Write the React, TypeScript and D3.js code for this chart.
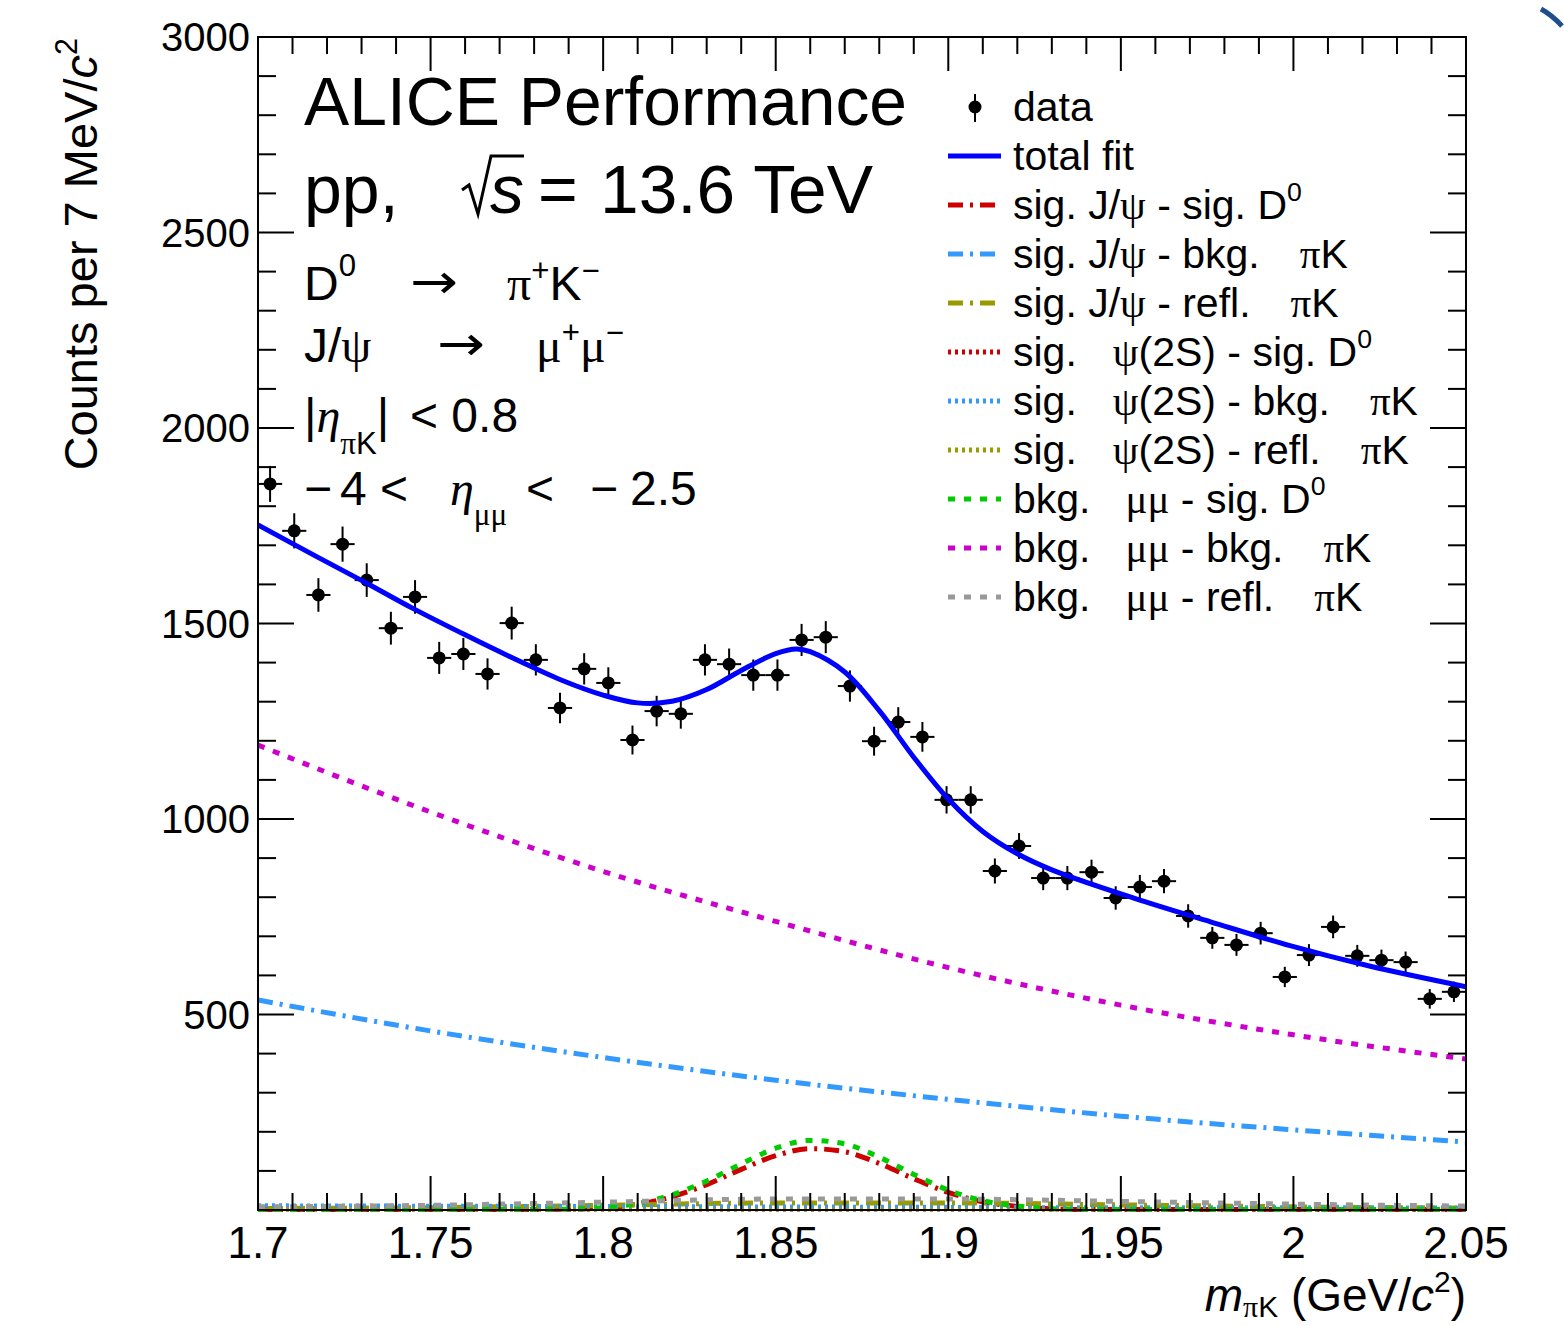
import React from 'react';
import * as d3 from 'd3';

// ---------------- data ----------------
const massLow = 1.7;
const binWidth = 0.007;
const counts = [1857, 1737, 1573, 1703, 1611, 1488, 1568, 1412, 1422, 1371, 1501, 1407, 1284, 1384, 1348, 1202, 1276, 1269, 1407, 1396, 1368, 1368, 1458, 1465, 1340, 1199, 1248, 1210, 1049, 1049, 867, 931, 849, 849, 864, 798, 826, 841, 752, 696, 678, 708, 596, 652, 724, 650, 639, 634, 540, 558];
const countErrors = [46, 45, 43, 45, 43, 42, 43, 41, 41, 40, 42, 40, 39, 40, 40, 37, 39, 38, 40, 40, 40, 40, 41, 41, 40, 37, 38, 38, 35, 35, 32, 33, 31, 31, 32, 30, 31, 31, 30, 28, 28, 29, 26, 28, 29, 28, 27, 27, 25, 26];

const fitMass = [1.700, 1.717, 1.7315, 1.745, 1.760, 1.774, 1.788, 1.800, 1.810, 1.820, 1.830, 1.840, 1.850, 1.856, 1.860, 1.870, 1.880, 1.890, 1.900, 1.910, 1.920, 1.930, 1.954, 1.976, 1.999, 2.022, 2.050];
const fitTotal = [1752, 1671, 1603, 1538, 1471, 1411, 1355, 1317, 1297, 1301, 1331, 1380, 1423, 1435, 1428, 1376, 1277, 1158, 1051, 968, 911, 870, 797, 737, 676, 624, 571];

const compMass = [1.70, 1.75, 1.80, 1.85, 1.90, 1.95, 2.00, 2.05];
const bkgMuMuBkgPiK = [1189, 1018, 866, 738, 620, 524, 448, 386];
const sigJpsiBkgPiK = [537, 458, 390, 332, 283, 240, 205, 174];
const bkgMuMuReflPiK = [8, 12, 20, 28, 28, 22, 15, 10];
const sigJpsiReflPiK = [4, 6, 12, 18, 18, 13, 8, 5];
const sigPsi2SBkgPiK = [12, 11, 10, 9, 8, 7, 7, 6];
const sigPsi2SSigD0 = [1, 1, 1, 1, 1, 1, 1, 1];
const sigPsi2SReflPiK = [1, 1, 1, 1, 1, 1, 1, 1];

const peakMass = [1.70, 1.76, 1.78, 1.79, 1.80, 1.81, 1.82, 1.83, 1.84, 1.85, 1.86, 1.87, 1.88, 1.89, 1.90, 1.91, 1.92, 1.93, 1.94, 1.96, 2.05];
const bkgMuMuSigD0 = [1, 1, 1, 2, 6, 17, 39, 74, 118, 158, 178, 169, 135, 91, 51, 24, 10, 3, 1, 1, 1];
const sigJpsiSigD0 = [1, 1, 1, 2, 5, 15, 34, 65, 104, 139, 157, 149, 119, 80, 45, 21, 9, 3, 1, 1, 1];

const xMajorTicks = [1.7, 1.75, 1.8, 1.85, 1.9, 1.95, 2.0, 2.05];
const xTickLabels = ['1.7', '1.75', '1.8', '1.85', '1.9', '1.95', '2', '2.05'];
const yMajorTicks = [500, 1000, 1500, 2000, 2500, 3000];
const yTickLabels = ['500', '1000', '1500', '2000', '2500', '3000'];

// ---------------- style ----------------
const W = 1564;
const H = 1326;
const P = { l: 258, r: 1466, t: 37, b: 1210 };
const SANS = "'Liberation Sans', Arial, Helvetica, sans-serif";
const SERIF = "'Liberation Serif', 'Times New Roman', serif";
const ARROWF = "'DejaVu Sans', sans-serif";
const C = {
  total: '#0000ff', red: '#cc0000', azure: '#3399ff', olive: '#999900',
  green: '#00cc00', magenta: '#cc00cc', grey: '#999999',
};
const DASHDOT = '15,7,3,7';
const DOTTED = '3,4';
const DASHED = '7,9';

type Seg = { t: string; serif?: boolean; italic?: boolean; sup?: boolean; sub?: boolean; dx?: number; font?: string };

function Rich({ x, y, size, segs, anchor, supShift = 0.5, subShift = 0.42, transform }: any) {
  let shift = 0;
  const kids = (segs as Seg[]).map((s, i) => {
    const target = s.sup ? -supShift * size : s.sub ? subShift * size : 0;
    const dy = target - shift;
    shift = target;
    return (
      <tspan
        key={i}
        dy={dy !== 0 ? dy : undefined}
        dx={s.dx}
        fontFamily={s.font ? s.font : s.serif ? SERIF : SANS}
        fontStyle={s.italic ? 'italic' : 'normal'}
        fontSize={s.sup || s.sub ? size * 0.65 : size}
      >
        {s.t}
      </tspan>
    );
  });
  return (
    <text x={x} y={y} fontSize={size} fontFamily={SANS} textAnchor={anchor} transform={transform} style={{ whiteSpace: 'pre' }} fill="#000">
      {kids}
    </text>
  );
}

type Comp = { xs: number[]; ys: number[]; color: string; dash: string | null; width: number };

const legendEntries: { kind: string; color?: string; dash?: string | null; segs: Seg[] }[] = [
  { kind: 'data', segs: [{ t: 'data' }] },
  { kind: 'line', color: C.total, dash: null, segs: [{ t: 'total fit' }] },
  { kind: 'line', color: C.red, dash: DASHDOT, segs: [{ t: 'sig. J/' }, { t: 'ψ', serif: true }, { t: ' - sig. D' }, { t: '0', sup: true }] },
  { kind: 'line', color: C.azure, dash: DASHDOT, segs: [{ t: 'sig. J/' }, { t: 'ψ', serif: true }, { t: ' - bkg.' }, { t: 'π', serif: true, dx: 40 }, { t: 'K' }] },
  { kind: 'line', color: C.olive, dash: DASHDOT, segs: [{ t: 'sig. J/' }, { t: 'ψ', serif: true }, { t: ' - refl.' }, { t: 'π', serif: true, dx: 40 }, { t: 'K' }] },
  { kind: 'line', color: C.red, dash: DOTTED, segs: [{ t: 'sig.' }, { t: 'ψ', serif: true, dx: 36 }, { t: '(2S) - sig. D' }, { t: '0', sup: true }] },
  { kind: 'line', color: C.azure, dash: DOTTED, segs: [{ t: 'sig.' }, { t: 'ψ', serif: true, dx: 36 }, { t: '(2S) - bkg.' }, { t: 'π', serif: true, dx: 40 }, { t: 'K' }] },
  { kind: 'line', color: C.olive, dash: DOTTED, segs: [{ t: 'sig.' }, { t: 'ψ', serif: true, dx: 36 }, { t: '(2S) - refl.' }, { t: 'π', serif: true, dx: 40 }, { t: 'K' }] },
  { kind: 'line', color: C.green, dash: DASHED, segs: [{ t: 'bkg.' }, { t: 'μμ', serif: true, dx: 35 }, { t: ' - sig. D' }, { t: '0', sup: true }] },
  { kind: 'line', color: C.magenta, dash: DASHED, segs: [{ t: 'bkg.' }, { t: 'μμ', serif: true, dx: 35 }, { t: ' - bkg.' }, { t: 'π', serif: true, dx: 40 }, { t: 'K' }] },
  { kind: 'line', color: C.grey, dash: DASHED, segs: [{ t: 'bkg.' }, { t: 'μμ', serif: true, dx: 35 }, { t: ' - refl.' }, { t: 'π', serif: true, dx: 40 }, { t: 'K' }] },
];

export default function App() {
  const x = d3.scaleLinear().domain([1.7, 2.05]).range([P.l, P.r]);
  const y = d3.scaleLinear().domain([0, 3000]).range([P.b, P.t]);

  const path = (xs: number[], ys: number[], curve: any) =>
    d3.line<number>().x((_, i) => x(xs[i])).y((d) => y(d)).curve(curve)(ys) || '';

  const smooth = d3.curveCatmullRom.alpha(0.5);

  const comps: Comp[] = [
    { xs: peakMass, ys: sigJpsiSigD0, color: C.red, dash: DASHDOT, width: 5 },
    { xs: compMass, ys: sigJpsiBkgPiK, color: C.azure, dash: DASHDOT, width: 5 },
    { xs: compMass, ys: sigJpsiReflPiK, color: C.olive, dash: DASHDOT, width: 5 },
    { xs: compMass, ys: sigPsi2SSigD0, color: C.red, dash: DOTTED, width: 4 },
    { xs: compMass, ys: sigPsi2SBkgPiK, color: C.azure, dash: DOTTED, width: 4 },
    { xs: compMass, ys: sigPsi2SReflPiK, color: C.olive, dash: DOTTED, width: 4 },
    { xs: peakMass, ys: bkgMuMuSigD0, color: C.green, dash: DASHED, width: 5 },
    { xs: compMass, ys: bkgMuMuBkgPiK, color: C.magenta, dash: DASHED, width: 5 },
    { xs: compMass, ys: bkgMuMuReflPiK, color: C.grey, dash: DASHED, width: 5 },
  ];

  const xMinor = d3.range(0, 36).map((i) => 1.7 + i * 0.01);
  const yMinor = d3.range(1, 30).map((i) => i * 100);

  const legendY0 = 107;
  const legendStep = 49;

  return (
    <svg width={W} height={H} style={{ position: 'absolute', left: 0, top: 0, display: 'block', background: '#fff' }}>
      <rect x={0} y={0} width={W} height={H} fill="#fff" />
      <defs>
        <clipPath id="plotclip">
          <rect x={P.l} y={P.t} width={P.r - P.l} height={P.b - P.t + 3} />
        </clipPath>
      </defs>

      {/* data points */}
      <g stroke="#000" strokeWidth={2} fill="#000">
        {counts.map((c, i) => {
          const m = massLow + (i + 0.5) * binWidth;
          const cx = x(m);
          const cy = y(c);
          return (
            <g key={i}>
              <line x1={x(massLow + i * binWidth)} x2={x(massLow + (i + 1) * binWidth)} y1={cy} y2={cy} />
              <line x1={cx} x2={cx} y1={y(c - countErrors[i])} y2={y(c + countErrors[i])} />
              <circle cx={cx} cy={cy} r={6.5} stroke="none" />
            </g>
          );
        })}
      </g>

      {/* components */}
      <g clipPath="url(#plotclip)" fill="none">
        {comps.map((c, i) => (
          <path
            key={i}
            d={path(c.xs, c.ys, d3.curveMonotoneX)}
            stroke={c.color}
            strokeWidth={c.width}
            strokeDasharray={c.dash || undefined}
          />
        ))}
        <path d={path(fitMass, fitTotal, smooth)} stroke={C.total} strokeWidth={5} />
      </g>

      {/* frame */}
      <rect x={P.l} y={P.t} width={P.r - P.l} height={P.b - P.t} fill="none" stroke="#000" strokeWidth={2} />

      {/* ticks */}
      <g stroke="#000" strokeWidth={2}>
        {xMinor.map((v, i) => {
          const major = i % 5 === 0;
          const len = major ? 34 : 17;
          return (
            <g key={'xt' + i}>
              <line x1={x(v)} x2={x(v)} y1={P.b} y2={P.b - len} />
              <line x1={x(v)} x2={x(v)} y1={P.t} y2={P.t + len} />
            </g>
          );
        })}
        {yMinor.map((v, i) => {
          const major = v % 500 === 0;
          const len = major ? 36 : 18;
          return (
            <g key={'yt' + i}>
              <line x1={P.l} x2={P.l + len} y1={y(v)} y2={y(v)} />
              <line x1={P.r} x2={P.r - len} y1={y(v)} y2={y(v)} />
            </g>
          );
        })}
      </g>

      {/* tick labels */}
      <g fontFamily={SANS} fill="#000">
        {xMajorTicks.map((v, i) => (
          <text key={'xl' + i} x={x(v)} y={1258} fontSize={44} textAnchor="middle">
            {xTickLabels[i]}
          </text>
        ))}
        {yMajorTicks.map((v, i) => (
          <text key={'yl' + i} x={250} y={y(v) + 14} fontSize={40} textAnchor="end">
            {yTickLabels[i]}
          </text>
        ))}
      </g>

      {/* axis titles */}
      <Rich
        x={P.r}
        y={1311}
        size={46}
        anchor="end"
        subShift={0.14}
        supShift={0.42}
        segs={[
          { t: 'm', italic: true },
          { t: 'π', serif: true, sub: true },
          { t: 'K', sub: true },
          { t: ' (GeV/' },
          { t: 'c', italic: true },
          { t: '2', sup: true },
          { t: ')' },
        ]}
      />
      <Rich
        x={0}
        y={0}
        size={47}
        anchor="end"
        supShift={0.42}
        transform="translate(97,38) rotate(-90)"
        segs={[{ t: 'Counts per 7 MeV/' }, { t: 'c', italic: true }, { t: '2', sup: true }]}
      />

      {/* header texts */}
      <text x={304} y={125} fontSize={68} fontFamily={SANS} textLength={603} lengthAdjust="spacingAndGlyphs">ALICE Performance</text>
      <text x={304} y={213} fontSize={68} fontFamily={SANS}>pp,</text>
      <path d="M462,190 L469,185 L478,214 L491,156 L524,156" fill="none" stroke="#000" strokeWidth={3} />
      <text x={490} y={213} fontSize={68} fontFamily={SANS} fontStyle="italic">s</text>
      <text x={538} y={213} fontSize={68} fontFamily={SANS}>=</text>
      <text x={600} y={213} fontSize={68} fontFamily={SANS} textLength={273} lengthAdjust="spacingAndGlyphs">13.6 TeV</text>

      <Rich x={304} y={300} size={48} segs={[{ t: 'D' }, { t: '0', sup: true }]} />
      <text x={410} y={298} fontSize={48} fontFamily={ARROWF} textLength={48} lengthAdjust="spacingAndGlyphs">→</text>
      <Rich x={507} y={300} size={48} supShift={0.4} segs={[{ t: 'π', serif: true }, { t: '+', sup: true }, { t: 'K' }, { t: '−', sup: true }]} />

      <Rich x={304} y={362} size={48} segs={[{ t: 'J/' }, { t: 'ψ', serif: true }]} />
      <text x={437} y={360} fontSize={48} fontFamily={ARROWF} textLength={48} lengthAdjust="spacingAndGlyphs">→</text>
      <Rich x={536} y={362} size={48} supShift={0.4} segs={[{ t: 'μ', serif: true }, { t: '+', sup: true }, { t: 'μ', serif: true }, { t: '−', sup: true }]} />

      <Rich
        x={304}
        y={432}
        size={48}
        subShift={0.45}
        segs={[{ t: '|' }, { t: 'η', serif: true, italic: true }, { t: 'π', serif: true, sub: true }, { t: 'K', sub: true }, { t: '|' }]}
      />
      <text x={410} y={432} fontSize={48} fontFamily={SANS}>{'< 0.8'}</text>

      <text x={304} y={505} fontSize={48} fontFamily={SANS}>−</text>
      <text x={340} y={505} fontSize={48} fontFamily={SANS}>4</text>
      <text x={380} y={505} fontSize={48} fontFamily={SANS}>{'<'}</text>
      <Rich x={450} y={505} size={48} subShift={0.42} segs={[{ t: 'η', serif: true, italic: true }, { t: 'μμ', serif: true, sub: true }]} />
      <text x={526} y={505} fontSize={48} fontFamily={SANS}>{'<'}</text>
      <text x={590} y={505} fontSize={48} fontFamily={SANS}>−</text>
      <text x={630} y={505} fontSize={48} fontFamily={SANS}>2.5</text>

      {/* legend */}
      {legendEntries.map((e, i) => {
        const cy = legendY0 + i * legendStep;
        return (
          <g key={'lg' + i}>
            {e.kind === 'data' ? (
              <g>
                <line x1={975} x2={975} y1={cy - 13} y2={cy + 15} stroke="#000" strokeWidth={2} />
                <circle cx={975} cy={cy} r={6.5} fill="#000" />
              </g>
            ) : (
              <line
                x1={948}
                x2={1001}
                y1={cy}
                y2={cy}
                stroke={e.color}
                strokeWidth={5}
                strokeDasharray={e.dash || undefined}
              />
            )}
            <Rich x={1013} y={cy + 14} size={41} supShift={0.45} segs={e.segs} />
          </g>
        );
      })}

      {/* corner logo fragment */}
      <path d="M1541,9 Q1552,15 1562,26" fill="none" stroke="#1d4f8f" strokeWidth={5} />
    </svg>
  );
}
